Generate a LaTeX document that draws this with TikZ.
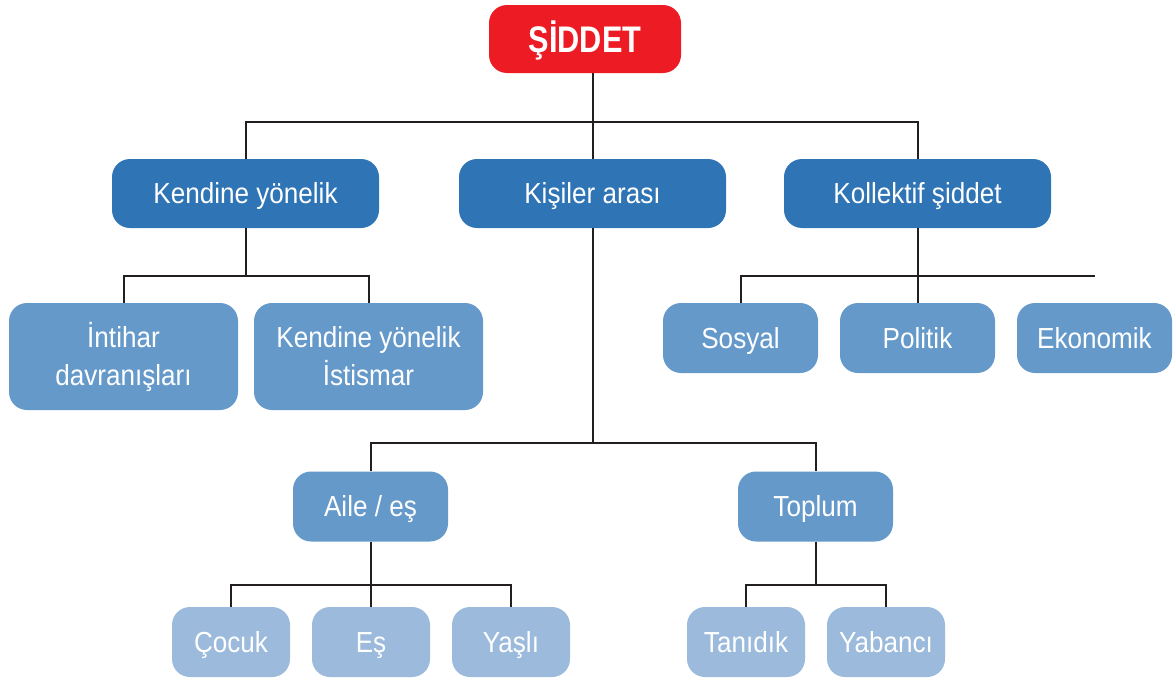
\documentclass[tikz,border=0pt]{standalone}
\usepackage{fontspec}
\setmainfont{Liberation Sans}[FakeStretch=0.9]
\newfontfamily\titlefnt{Liberation Sans}[FakeStretch=0.83]
\definecolor{cred}{HTML}{ED1C24}
\definecolor{cdark}{HTML}{2F74B5}
\definecolor{cmid}{HTML}{6499CA}
\definecolor{clight}{HTML}{9BBADC}
\definecolor{cline}{HTML}{231F20}
\tikzset{
  box/.style={rounded corners=18pt, text=white, inner sep=0pt, align=center,
    font=\fontsize{29}{38}\selectfont},
  oneline/.style={text height=20.5pt, text depth=0pt},
  titlebox/.style={box, fill=cred, minimum width=192pt, minimum height=68pt,
    text height=27pt, text depth=0pt,
    font=\titlefnt\bfseries\fontsize{37}{40}\selectfont},
  lone/.style={box, oneline, fill=cdark, minimum width=267pt, minimum height=69pt},
  ltwobig/.style={box, fill=cmid, minimum width=229pt, minimum height=107pt},
  ltwo/.style={box, oneline, fill=cmid, minimum width=155pt, minimum height=70pt},
  lthree/.style={box, oneline, fill=clight, minimum width=118pt, minimum height=70pt},
  conn/.style={draw=cline, line width=2pt}
}
\begin{document}
\begin{tikzpicture}[x=1pt,y=-1pt]
\useasboundingbox (0,0) rectangle (1173,680);
\coordinate (h1) at (0,122);
\coordinate (h2) at (0,276);
\coordinate (h3) at (0,443);
\coordinate (h4) at (0,585);
% nodes
\node[titlebox] (root) at (585,39) {ŞİDDET};
\node[lone] (self) at (245.5,193.5) {Kendine yönelik};
\node[lone] (inter) at (592.5,193.5) {Kişiler arası};
\node[lone] (coll) at (917.5,193.5) {Kollektif şiddet};
\node[ltwobig] (suic) at (123.5,356.5) {İntihar\\davranışları};
\node[ltwobig] (abuse) at (368.5,356.5) {Kendine yönelik\\İstismar};
\node[ltwo] (sos) at (740.5,338) {Sosyal};
\node[ltwo] (pol) at (917.5,338) {Politik};
\node[ltwo] (eco) at (1094.5,338) {Ekonomik};
\node[ltwo] (fam) at (370.5,506.5) {Aile / eş};
\node[ltwo] (comm) at (815.5,506.5) {Toplum};
\node[lthree] (child) at (231,642) {Çocuk};
\node[lthree] (spouse) at (371,642) {Eş};
\node[lthree] (elder) at (511,642) {Yaşlı};
\node[lthree] (acq) at (746,642) {Tanıdık};
\node[lthree] (stranger) at (886,642) {Yabancı};
% connectors
\draw[conn] (inter.north|-root.south) -- (inter.north);
\draw[conn] (self.north) -- (self.north|-h1) -- (coll.north|-h1) -- (coll.north);
\draw[conn] (self.south) -- (self.south|-h2);
\draw[conn] (suic.north) -- (suic.north|-h2) -- (abuse.north|-h2) -- (abuse.north);
\draw[conn] (coll.south) -- (coll.south|-h2);
\draw[conn] (sos.north) -- (sos.north|-h2) -- (eco.north|-h2);
\draw[conn] (pol.north) -- (pol.north|-h2);
\draw[conn] (inter.south) -- (inter.south|-h3);
\draw[conn] (fam.north) -- (fam.north|-h3) -- (comm.north|-h3) -- (comm.north);
\draw[conn] (fam.south) -- (fam.south|-h4);
\draw[conn] (child.north) -- (child.north|-h4) -- (elder.north|-h4) -- (elder.north);
\draw[conn] (spouse.north) -- (spouse.north|-h4);
\draw[conn] (comm.south) -- (comm.south|-h4);
\draw[conn] (acq.north) -- (acq.north|-h4) -- (stranger.north|-h4) -- (stranger.north);
\end{tikzpicture}
\end{document}
